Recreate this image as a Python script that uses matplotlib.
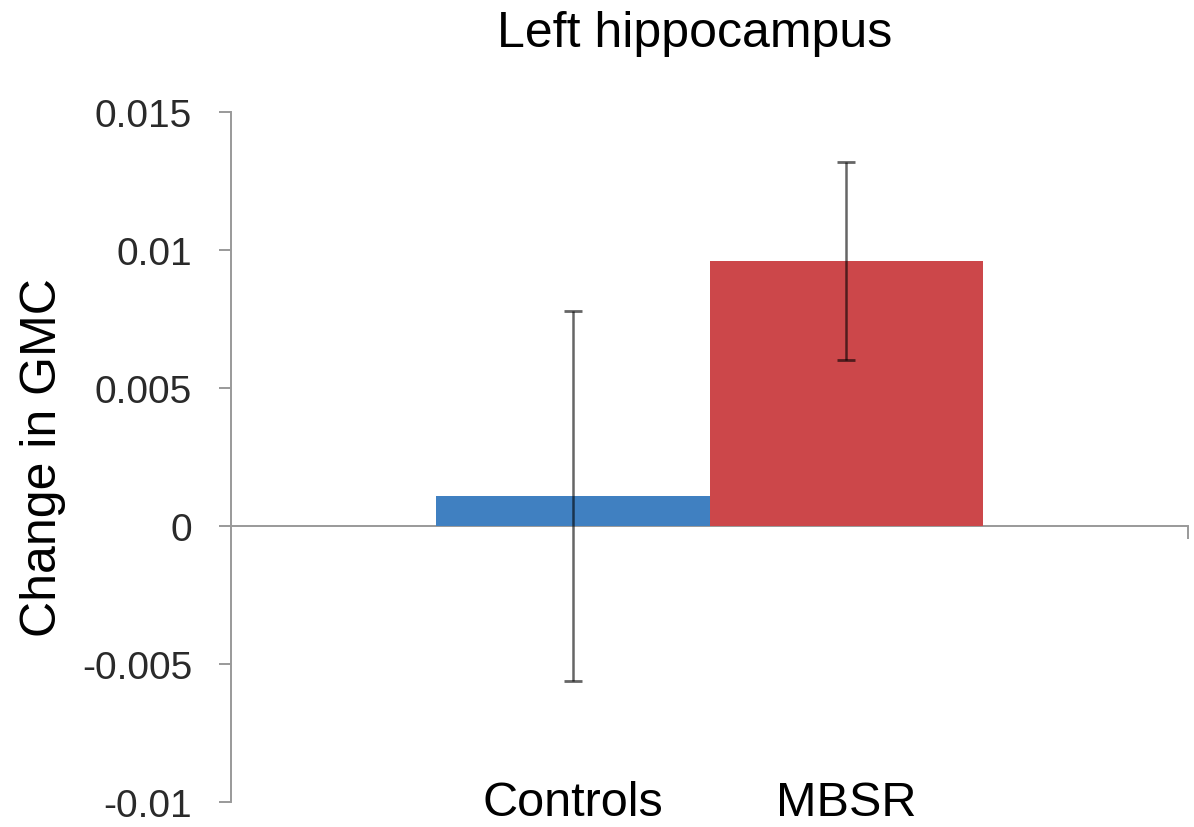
"""Left hippocampus: change in grey-matter concentration, Controls vs MBSR."""

import matplotlib

matplotlib.use("Agg")

import matplotlib.pyplot as plt

groups = ["Controls", "MBSR"]
change_gmc = [0.0011, 0.0096]
sem = [0.0067, 0.0036]
bar_colors = ["#4080c1", "#cc474a"]

yticks = [-0.01, -0.005, 0, 0.005, 0.01, 0.015]
ytick_labels = ["-0.01", "-0.005", "0", "0.005", "0.01", "0.015"]

plt.rcParams["font.family"] = ["Liberation Sans", "DejaVu Sans"]

fig = plt.figure(figsize=(11.94, 8.28), dpi=100)
ax = fig.add_axes([0.1935, 0.0302, 0.8015, 0.8333])

xpos = list(range(len(groups)))
ax.bar(xpos, change_gmc, width=1.0, color=bar_colors, zorder=2)
ax.errorbar(
    xpos, change_gmc, yerr=sem, fmt="none", ecolor="black", alpha=0.6,
    elinewidth=1.8, capsize=6.5, capthick=2.0, zorder=3,
)

ax.set_xlim(-1.25, 2.25)
ax.set_ylim(-0.01, 0.015)

# axis styling: grey y axis on the left, category axis drawn at zero
axis_grey = "#999999"
for side in ("top", "right"):
    ax.spines[side].set_visible(False)
ax.spines["left"].set_color(axis_grey)
ax.spines["left"].set_linewidth(1.4)
ax.spines["bottom"].set_position(("data", 0))
ax.spines["bottom"].set_color(axis_grey)
ax.spines["bottom"].set_linewidth(1.4)
ax.spines["bottom"].set_zorder(1)

ax.set_yticks(yticks)
ax.set_yticklabels(ytick_labels)
ax.tick_params(axis="y", length=9, width=1.4, color=axis_grey, pad=19,
               labelsize=28, labelcolor="#2a2a2a")
ax.set_xticks([])
ax.set_xticks([2.25], minor=True)
ax.tick_params(axis="x", which="minor", length=9, width=1.4, color=axis_grey,
               direction="out", labelbottom=False)

# category names sit at the bottom of the plot, level with the -0.01 tick
for x, name in zip(xpos, groups):
    ax.annotate(name, xy=(x, 12), xycoords=("data", "figure pixels"),
                ha="center", va="baseline", fontsize=35, color="black",
                annotation_clip=False)

fig.text(43 / 1194, 1 - 458 / 828, "Change in GMC", rotation=90,
         ha="center", va="center", fontsize=36, color="black")
fig.text(695 / 1194, 1 - 47 / 828, "Left hippocampus", ha="center",
         va="baseline", fontsize=36, color="black")

fig.savefig("out.png", dpi=100)
